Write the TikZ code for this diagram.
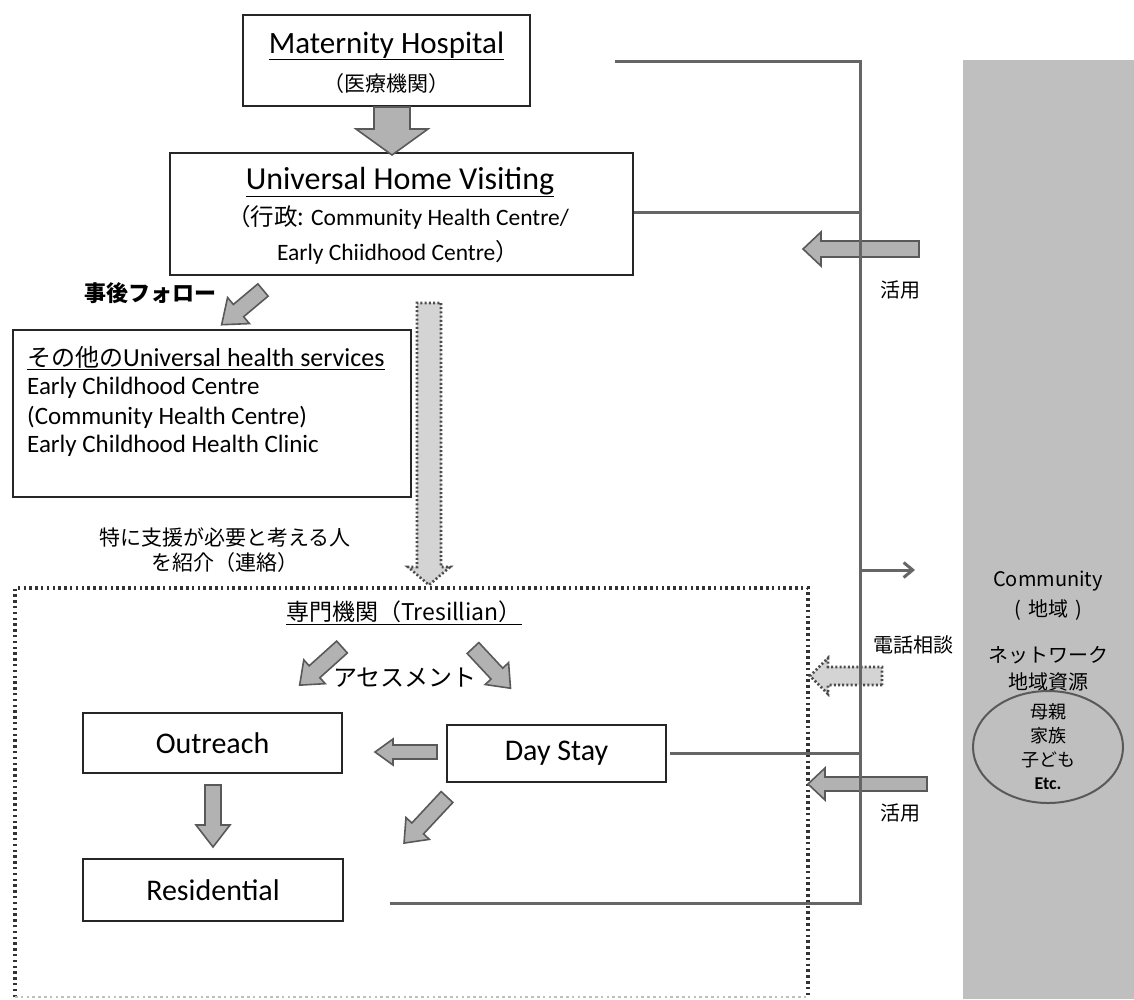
\documentclass[tikz,border=0pt]{standalone}
\usepackage{fontspec}
\setmainfont{Carlito}
\newfontfamily\jp{Noto Sans CJK JP}
\usetikzlibrary{arrows.meta,calc,shapes.geometric}
\newcommand\fsz[1]{\fontsize{#1}{#1}\selectfont}
\tikzset{
  box/.style={draw=black!85, line width=2.5pt, fill=white, inner sep=0pt},
  txt/.style={inner sep=0pt, anchor=center},
  conn/.style={draw=black!60, line width=3pt},
  arr/.style={draw=black!65, line width=1.6pt, fill=black!30, line join=miter},
  darr/.style={draw=black!70, line width=2.6pt, dash pattern=on 2pt off 2.2pt, fill=black!17},
  dotbox/.style={draw=black!80, line width=3.5pt, dash pattern=on 2.5pt off 3.3pt},
  pics/barrow/.style n args={5}{code={%
    \path[#5] (0,-#2) -- ({#1-#4},-#2) -- ({#1-#4},-#3) -- (#1,0)
      -- ({#1-#4},#3) -- ({#1-#4},#2) -- (0,#2) -- cycle;}},
}
\begin{document}
\begin{tikzpicture}[x=1pt,y=-1pt]
\useasboundingbox (0,0) rectangle (1134,999);
% community column
\fill[black!25] (963,60) rectangle (1134,999);
\node[txt] (comm) at (1048,581) {\jp\fsz{20}Community};
\node[txt] (chiiki) at (1048,610) {\jp\fsz{20}(\hspace{7pt}地域\hspace{7pt})};
\node[txt] (net) at (1048,655) {\jp\fsz{20}ネットワーク};
\node[txt] (shigen) at (1048,682) {\jp\fsz{20}地域資源};
\node[draw=black!65, line width=2pt, ellipse, minimum width=150pt, minimum height=112pt] (ell) at (1048,747) {};
\node[txt] (haha) at (1048,712) {\jp\fsz{18}母親};
\node[txt] (kazoku) at (1048,736) {\jp\fsz{18}家族};
\node[txt] (kodomo) at (1048,760) {\jp\fsz{18}子ども};
\node[txt] (etc) at (1048,784) {\fsz{18}\bfseries Etc.};

% dotted frame
\coordinate (fTL) at (15,588);
\coordinate (fTR) at (808,588);
\coordinate (fBL) at (15,997);
\coordinate (fBR) at (808,997);
\draw[dotbox] (fBL) -- (fTL) -- (fTR) -- (fBR);
\draw[dotbox, draw=black!25, line width=2pt] (fBL) -- (fBR);

% boxes
\node[box, minimum width=287pt, minimum height=91pt] (mh) at (386.5,60.5) {};
\node[txt] (mht) at (386.5,46) {\fsz{31}\underline{Maternity Hospital}};
\node[txt] (mhj) at (386.5,84) {\jp\fsz{21}（医療機関）};

\node[box, minimum width=463pt, minimum height=122pt] (uhv) at (401.5,214) {};
\node[txt] (uhvt) at (400,182) {\fsz{32}\underline{Universal Home Visiting}};
\node[txt] (uhv2) at (398,217) {\fsz{23.5}{\jp （行政:} Community Health Centre/};
\node[txt] (uhv3) at (398,252) {\fsz{23.5}Early Chiidhood Centre{\jp ）}};

\node[box, minimum width=398pt, minimum height=167pt] (uhs) at (212,413.5) {};
\node[txt, anchor=west] (uhs1) at (27,358) {\fsz{26}\underline{{\jp\fsz{24}その他の}Universal health services}};
\node[txt, anchor=west] (uhs2) at (27,388) {\fsz{25}Early Childhood Centre};
\node[txt, anchor=west] (uhs3) at (27,417) {\fsz{25}(Community Health Centre)};
\node[txt, anchor=west] (uhs4) at (27,446) {\fsz{25}Early Childhood Health Clinic};

\node[txt] (jigo) at (150,293) {\jp\bfseries\fsz{22}事後フォロー};
\node[txt] (toku1) at (225,537) {\jp\fsz{21}特に支援が必要と考える人};
\node[txt] (toku2) at (225,563) {\jp\fsz{21}を紹介（連絡）};
\node[txt] (senmon) at (404,613) {\jp\fsz{23}\underline{専門機関（Tresillian）}};
\node[txt] (assess) at (405,678) {\jp\fsz{24}アセスメント};

\node[box, minimum width=259pt, minimum height=60pt] (out) at (212.5,743) {};
\node[txt] (outt) at (212.5,743) {\fsz{30}Outreach};
\node[box, minimum width=219pt, minimum height=57pt] (day) at (556.5,753.5) {};
\node[txt] (dayt) at (556.5,753.5) {\fsz{30}Day Stay};
\node[box, minimum width=260pt, minimum height=62pt] (res) at (213,890) {};
\node[txt] (rest) at (213,890) {\fsz{30}Residential};

\node[txt] (katsu1) at (900,290) {\jp\fsz{20}活用};
\node[txt] (denwa) at (913,645) {\jp\fsz{20}電話相談};
\node[txt] (katsu2) at (900,813) {\jp\fsz{20}活用};

% block arrows
\pic[rotate=-90] at (392,107) {barrow={48}{18}{36}{26}{arr}};
\pic[rotate=180] at (919,249) {barrow={116}{8}{17}{18}{arr}};
\pic[rotate=-140] at (263,290) {barrow={54}{8}{17}{22}{arr}};
\pic[rotate=-90] at (429,303) {barrow={282}{12}{21}{18}{darr}};
\pic[rotate=-138] at (342,647) {barrow={57}{8}{16}{20}{arr}};
\pic[rotate=-47] at (473,648) {barrow={55}{8}{16}{20}{arr}};
\pic[rotate=180] at (437,752) {barrow={62}{7}{13}{18}{arr}};
\pic[rotate=-90] at (213,785) {barrow={62}{8}{17}{22}{arr}};
\pic[rotate=-133] at (447,797) {barrow={63}{8}{16}{20}{arr}};
\pic[rotate=180] at (882,676) {barrow={72}{9}{18}{18}{darr}};
\pic[rotate=180] at (927,784) {barrow={119}{7}{16}{17}{arr}};

% connectors
\coordinate (vTop) at (860,61);
\coordinate (vBot) at (860,903);
\coordinate (mhOut) at (615,61);
\coordinate (dayOut) at (670,753);
\coordinate (resOut) at (390,903);
\coordinate (branch) at (860,570);
\coordinate (commIn) at (915,570);
\draw[conn] (mhOut) -- (vTop) -- (vBot) -- (resOut);
\draw[conn] (uhv.east |- 0,212) -- (vTop |- 0,212);
\draw[conn] (dayOut) -- (vTop |- dayOut);
\draw[conn, -{Straight Barb[length=9pt,width=15pt]}] (branch) -- (commIn);
\end{tikzpicture}
\end{document}
